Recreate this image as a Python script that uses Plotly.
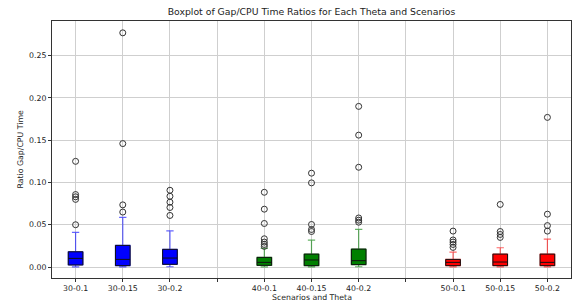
import plotly.graph_objects as go

# ---- data ----
labels = ["30-0.1", "30-0.15", "30-0.2", "40-0.1", "40-0.15", "40-0.2", "50-0.1", "50-0.15", "50-0.2"]
q1 = [0.0024, 0.0016, 0.0032, 0.0020, 0.0016, 0.0028, 0.0016, 0.0016, 0.0016]
median = [0.0102, 0.0090, 0.0106, 0.0055, 0.0083, 0.0075, 0.0055, 0.0059, 0.0055]
q3 = [0.0180, 0.0256, 0.0209, 0.0114, 0.0153, 0.0212, 0.0090, 0.0153, 0.0153]
whisker_low = [0.0002, 0.0001, 0.0003, 0.0002, 0.0002, 0.0003, 0.0002, 0.0002, 0.0002]
whisker_high = [0.0410, 0.0586, 0.0428, 0.0220, 0.0318, 0.0444, 0.0177, 0.0228, 0.0330]
outliers = [
    [0.125, 0.0857, 0.083, 0.080, 0.050],
    [0.277, 0.146, 0.0735, 0.065],
    [0.0908, 0.0837, 0.0767, 0.0704, 0.061],
    [0.0884, 0.0684, 0.0515, 0.0334, 0.0295, 0.0267, 0.0244],
    [0.111, 0.0995, 0.0503, 0.0444, 0.042],
    [0.190, 0.156, 0.118, 0.058, 0.0554, 0.053],
    [0.0425, 0.032, 0.0295, 0.0267, 0.0232],
    [0.074, 0.042, 0.0385, 0.035],
    [0.177, 0.0625, 0.049, 0.0425],
]
y_ticks = [0.00, 0.05, 0.10, 0.15, 0.20, 0.25]

# ---- styling / layout ----
group_colors = ["#0000ff", "#008000", "#ff0000"]
whisker_colors = ["rgba(0,0,255,0.6)", "rgba(0,128,0,0.6)", "rgba(255,0,0,0.6)"]
positions = [i + 1 + i // 3 for i in range(len(labels))]  # gap slot between groups

tickvals = list(range(1, 12))
ticktext = []
for p in tickvals:
    ticktext.append(labels[positions.index(p)] if p in positions else "")

fig = go.Figure()
BW = 0.31
for g in range(3):
    idx = list(range(g * 3, g * 3 + 3))
    xs = [positions[i] for i in idx]
    # whiskers (colored)
    fig.add_trace(go.Box(
        x=xs, q1=[q1[i] for i in idx], median=[median[i] for i in idx], q3=[q3[i] for i in idx],
        lowerfence=[whisker_low[i] for i in idx], upperfence=[whisker_high[i] for i in idx],
        width=BW, whiskerwidth=0.5, fillcolor=group_colors[g],
        line=dict(color=whisker_colors[g], width=1.2), boxpoints=False, showlegend=False,
    ))
    # box body with dark edges and median
    fig.add_trace(go.Box(
        x=xs, q1=[q1[i] for i in idx], median=[median[i] for i in idx], q3=[q3[i] for i in idx],
        lowerfence=[q1[i] for i in idx], upperfence=[q3[i] for i in idx],
        width=BW, whiskerwidth=0, fillcolor=group_colors[g],
        line=dict(color="#111111", width=1), boxpoints=False, showlegend=False,
    ))
    ox, oy = [], []
    for i in idx:
        for v in outliers[i]:
            ox.append(positions[i])
            oy.append(v)
    fig.add_trace(go.Scatter(
        x=ox, y=oy, mode="markers", showlegend=False,
        marker=dict(symbol="circle-open", size=6, color="#333333", line=dict(width=1)),
    ))

axis_common = dict(showgrid=True, gridcolor="#cfcfcf", gridwidth=1, showline=True, linecolor="#333333",
                   linewidth=1, mirror=True, ticks="outside", ticklen=3, tickcolor="#333333",
                   zeroline=False, automargin=False, tickfont=dict(size=7.8, color="#222222"))
fig.update_layout(
    width=576, height=303,
    margin=dict(l=52, r=5, t=21, b=25, autoexpand=False),
    paper_bgcolor="white", plot_bgcolor="white",
    font=dict(family="DejaVu Sans", color="#222222"),
    title=dict(text="Boxplot of Gap/CPU Time Ratios for Each Theta and Scenarios",
               x=(52 + 571) / 2 / 576, xanchor="center", xref="container",
               y=1 - 12 / 303, yanchor="middle", yref="container", font=dict(size=9.3)),
    xaxis=dict(range=[0.5, 11.5], tickmode="array", tickvals=tickvals, ticktext=ticktext,
               **axis_common),
    yaxis=dict(range=[-0.013, 0.291], tickmode="array", tickvals=y_ticks,
               ticktext=[f"{v:.2f}" for v in y_ticks], **axis_common),
    annotations=[
        dict(text="Scenarios and Theta", xref="paper", yref="paper", x=0.5, y=0,
             xanchor="center", yanchor="top", yshift=-13, showarrow=False, font=dict(size=7.8)),
        dict(text="Ratio Gap/CPU Time", xref="paper", yref="paper", x=0, y=0.5, textangle=-90,
             xanchor="center", yanchor="middle", xshift=-32, showarrow=False, font=dict(size=7.8)),
    ],
)
fig.write_html("out.html", config={"displayModeBar": False},
               post_script="document.body.style.margin='0';document.body.style.overflow='hidden';")
